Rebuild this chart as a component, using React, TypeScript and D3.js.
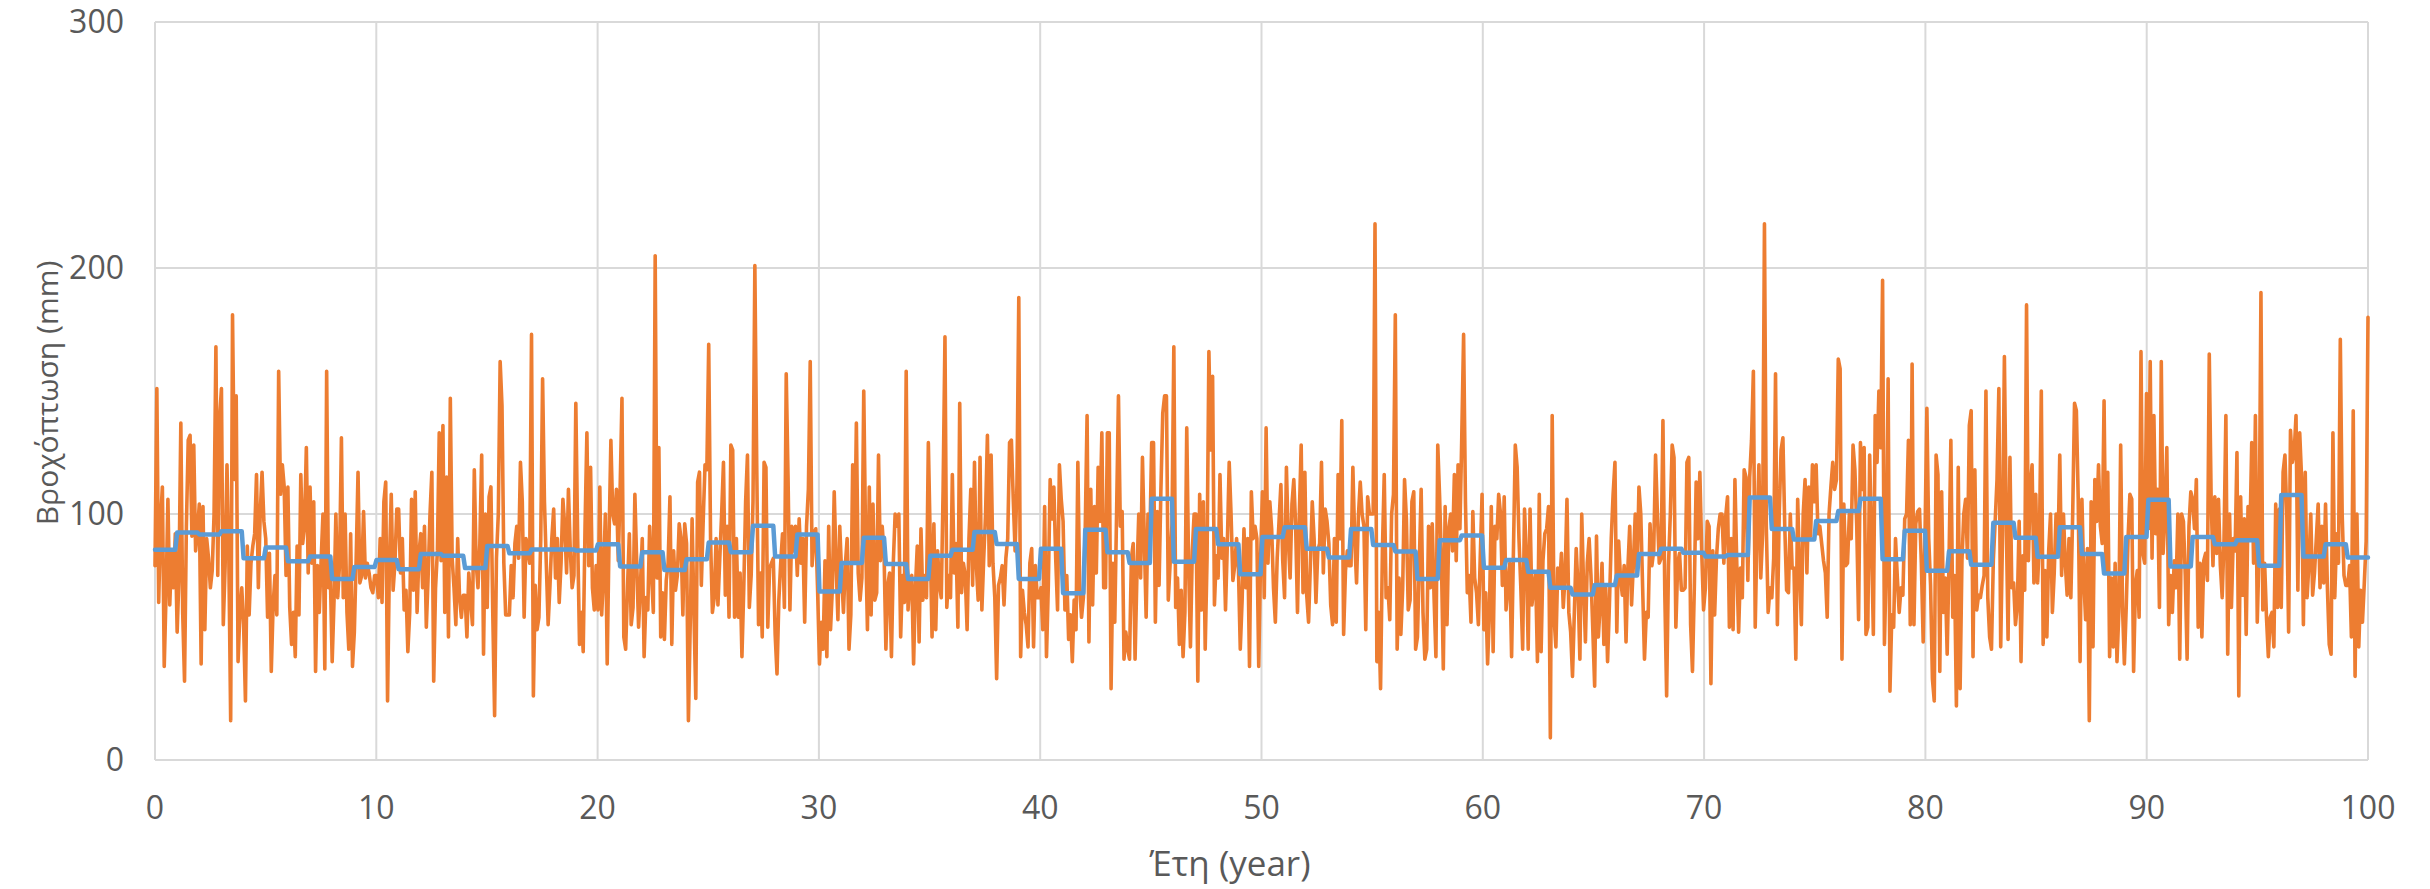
import React from 'react';
import * as d3 from 'd3';

// monthly rainfall (mm), one row per year, 12 months each
const monthlyRain: number[][] = [
  [79, 151, 64, 97, 111, 38, 68, 106, 63, 85, 70, 92],
  [52, 75, 137, 60, 32, 95, 130, 132, 91, 128, 85, 93],
  [104, 39, 103, 53, 90, 82, 70, 77, 100, 168, 75, 139],
  [151, 55, 79, 120, 82, 16, 181, 114, 148, 40, 60, 70],
  [55, 24, 87, 59, 80, 87, 92, 116, 70, 100, 117, 97],
  [90, 58, 84, 36, 63, 75, 59, 158, 108, 120, 111, 75],
  [111, 62, 47, 60, 42, 87, 59, 116, 88, 95, 127, 76],
  [111, 80, 105, 36, 79, 60, 81, 100, 37, 158, 70, 75],
  [40, 65, 100, 66, 80, 131, 66, 100, 60, 45, 92, 38],
  [52, 82, 117, 72, 75, 101, 74, 80, 76, 70, 68, 75],
  [75, 66, 90, 64, 105, 113, 24, 80, 108, 69, 80, 102],
  [102, 76, 90, 61, 69, 44, 60, 106, 69, 109, 60, 84],
  [92, 70, 95, 54, 75, 100, 117, 32, 70, 85, 133, 81],
  [136, 60, 115, 50, 147, 82, 70, 55, 90, 66, 58, 67],
  [67, 50, 76, 65, 55, 118, 80, 70, 88, 124, 43, 100],
  [62, 107, 111, 60, 18, 82, 100, 162, 144, 80, 59, 59],
  [59, 79, 66, 88, 95, 82, 121, 105, 58, 90, 85, 80],
  [173, 26, 71, 53, 58, 90, 155, 105, 80, 55, 71, 90],
  [102, 74, 90, 64, 80, 106, 95, 76, 110, 85, 70, 75],
  [145, 90, 47, 60, 44, 95, 133, 79, 119, 70, 61, 79],
  [61, 111, 59, 75, 100, 39, 90, 130, 100, 96, 110, 81],
  [110, 147, 50, 45, 70, 92, 55, 62, 108, 80, 54, 71],
  [90, 42, 66, 61, 95, 76, 60, 205, 74, 127, 50, 68],
  [49, 73, 80, 107, 47, 85, 69, 75, 96, 90, 59, 96],
  [88, 16, 56, 98, 60, 25, 113, 117, 71, 97, 120, 118],
  [169, 90, 60, 66, 90, 63, 82, 100, 121, 67, 95, 58],
  [128, 126, 58, 90, 58, 76, 42, 70, 105, 124, 62, 75],
  [105, 201, 121, 55, 76, 50, 121, 119, 54, 78, 80, 82],
  [51, 35, 65, 80, 92, 62, 157, 114, 61, 95, 85, 95],
  [75, 98, 80, 90, 56, 95, 110, 162, 79, 92, 94, 69],
  [39, 56, 45, 81, 42, 95, 53, 70, 109, 80, 57, 95],
  [76, 60, 79, 90, 45, 59, 120, 80, 137, 76, 65, 74],
  [150, 90, 53, 111, 59, 104, 65, 68, 124, 81, 95, 84],
  [45, 71, 76, 42, 80, 100, 95, 100, 50, 75, 64, 158],
  [61, 74, 75, 39, 70, 87, 48, 94, 65, 75, 66, 129],
  [90, 50, 96, 53, 85, 71, 66, 110, 172, 62, 75, 66],
  [116, 76, 88, 54, 145, 68, 80, 75, 53, 90, 110, 71],
  [121, 79, 65, 123, 61, 82, 100, 132, 79, 124, 80, 66],
  [33, 71, 74, 79, 63, 82, 90, 129, 130, 106, 85, 112],
  [188, 42, 69, 60, 55, 46, 80, 86, 46, 79, 66, 66],
  [70, 53, 103, 42, 71, 114, 98, 111, 82, 61, 120, 106],
  [97, 61, 75, 49, 59, 40, 65, 53, 121, 70, 58, 66],
  [94, 140, 48, 110, 63, 103, 76, 119, 97, 133, 70, 70],
  [133, 133, 29, 80, 56, 101, 148, 95, 101, 41, 52, 45],
  [41, 82, 88, 41, 75, 100, 74, 123, 90, 58, 100, 89],
  [129, 129, 56, 101, 71, 110, 141, 148, 148, 65, 80, 96],
  [168, 62, 74, 47, 69, 42, 60, 135, 79, 46, 85, 100],
  [100, 32, 108, 61, 105, 45, 82, 166, 126, 156, 63, 83],
  [74, 116, 82, 90, 61, 88, 121, 100, 73, 79, 90, 78],
  [45, 65, 94, 70, 90, 38, 109, 90, 95, 90, 38, 82],
  [109, 66, 135, 80, 105, 94, 70, 56, 82, 97, 112, 81],
  [66, 119, 90, 74, 104, 114, 95, 60, 100, 128, 68, 117],
  [67, 56, 80, 105, 90, 64, 85, 88, 121, 76, 102, 97],
  [88, 63, 55, 90, 56, 116, 90, 138, 51, 77, 85, 79],
  [79, 119, 90, 72, 99, 113, 100, 95, 53, 107, 100, 100],
  [100, 218, 40, 60, 29, 85, 116, 66, 70, 57, 100, 108],
  [181, 45, 74, 51, 70, 114, 98, 61, 65, 105, 109, 45],
  [50, 80, 110, 60, 41, 45, 95, 70, 96, 66, 42, 128],
  [107, 80, 37, 103, 55, 94, 100, 85, 116, 81, 120, 94],
  [131, 173, 105, 68, 75, 56, 101, 74, 68, 55, 82, 108],
  [53, 68, 39, 60, 103, 44, 95, 90, 108, 100, 71, 107],
  [61, 71, 80, 42, 85, 128, 119, 90, 70, 45, 102, 83],
  [45, 102, 63, 70, 76, 40, 108, 44, 81, 92, 94, 103],
  [9, 140, 58, 46, 78, 70, 84, 62, 75, 106, 60, 52],
  [34, 60, 86, 70, 41, 100, 71, 48, 80, 90, 75, 53],
  [30, 91, 50, 63, 80, 47, 70, 40, 63, 90, 108, 121],
  [52, 89, 74, 67, 79, 48, 78, 95, 63, 80, 100, 75],
  [111, 100, 70, 41, 60, 58, 96, 79, 85, 124, 100, 80],
  [82, 138, 68, 26, 79, 100, 128, 123, 54, 80, 84, 69],
  [69, 70, 121, 123, 55, 36, 70, 113, 90, 117, 85, 61],
  [70, 97, 95, 31, 85, 59, 82, 94, 100, 100, 80, 99],
  [107, 54, 90, 53, 114, 80, 52, 78, 66, 118, 115, 73],
  [115, 130, 158, 54, 94, 120, 74, 92, 218, 95, 60, 70],
  [66, 82, 157, 55, 100, 126, 131, 95, 69, 68, 100, 78],
  [78, 41, 106, 78, 55, 100, 114, 76, 111, 91, 120, 105],
  [120, 92, 95, 88, 81, 76, 58, 100, 111, 121, 110, 114],
  [163, 159, 41, 104, 79, 80, 100, 90, 128, 118, 95, 57],
  [129, 110, 127, 51, 54, 124, 90, 51, 140, 121, 150, 127],
  [195, 47, 80, 155, 28, 59, 54, 90, 74, 60, 70, 67],
  [98, 100, 130, 55, 161, 55, 96, 101, 102, 80, 48, 92],
  [143, 90, 71, 33, 24, 124, 116, 36, 109, 60, 74, 43],
  [81, 130, 58, 75, 22, 119, 29, 81, 100, 106, 82, 136],
  [142, 42, 118, 61, 67, 66, 71, 75, 150, 66, 50, 45],
  [81, 97, 114, 151, 46, 92, 164, 98, 49, 123, 70, 72],
  [55, 63, 97, 40, 83, 69, 185, 81, 111, 120, 72, 108],
  [72, 90, 150, 47, 77, 50, 85, 100, 60, 76, 100, 84],
  [124, 75, 100, 80, 67, 90, 66, 100, 145, 142, 106, 40],
  [106, 74, 57, 86, 16, 105, 46, 114, 97, 120, 95, 88],
  [146, 76, 117, 42, 74, 46, 80, 40, 60, 128, 62, 39],
  [62, 90, 108, 106, 36, 71, 77, 58, 166, 84, 80, 149],
  [94, 162, 82, 140, 92, 110, 62, 162, 84, 100, 127, 55],
  [75, 60, 81, 70, 100, 41, 100, 97, 75, 41, 95, 109],
  [106, 94, 114, 54, 80, 50, 81, 84, 73, 165, 107, 79],
  [107, 84, 106, 79, 66, 90, 140, 43, 100, 62, 90, 85],
  [125, 26, 107, 67, 98, 51, 103, 90, 129, 80, 140, 56],
  [85, 190, 61, 80, 58, 42, 58, 60, 46, 104, 62, 102],
  [62, 117, 124, 100, 52, 134, 121, 125, 140, 69, 133, 115],
  [55, 117, 66, 80, 100, 67, 76, 90, 104, 70, 95, 72],
  [104, 70, 47, 43, 133, 66, 92, 80, 171, 100, 75, 71],
  [71, 79, 50, 142, 34, 100, 46, 69, 56, 72, 89, 180],
];

// annual mean (mm), drawn as a step over each year's 12 months
const annualMean: number[] = [
  85.5, 92.5, 91.7, 93, 82, 86.4, 80.8, 82.7, 73.6, 78.5,
  81.3, 77.5, 83.7, 83, 78, 87, 84, 85.6, 85.6, 85.2,
  87.7, 78.7, 84.5, 77.2, 81.6, 88.4, 84.5, 95.2, 82.7, 91.7,
  68.5, 80.1, 90.3, 79.7, 73.6, 83, 85.5, 92.7, 87.8, 73.6,
  85.9, 67.8, 93.6, 84.5, 80.1, 106.2, 80.6, 93.9, 87.7, 75.5,
  90.6, 94.6, 85.9, 82.3, 93.9, 87.4, 84.8, 73.6, 89.3, 91.3,
  78.2, 81.3, 76.5, 70, 67.3, 71.1, 75, 83.7, 85.9, 84.2,
  82.7, 83.3, 106.7, 93.9, 89.6, 97.2, 101.2, 106.2, 81.6, 93.2,
  76.9, 84.9, 79.4, 96.4, 90.3, 82.6, 94.6, 83.7, 75.8, 90.6,
  105.8, 78.7, 90.6, 87.7, 89.3, 79, 107.7, 82.7, 87.7, 82.3,
];

const xTicks = [0, 10, 20, 30, 40, 50, 60, 70, 80, 90, 100];
const yTicks = [0, 100, 200, 300];

const W = 2430;
const H = 889;
const FONT = '"Open Sans", "Noto Sans", sans-serif';
const TEXT = '#595959';
const GRID = '#d9d9d9';

export default function App() {
  const x = d3.scaleLinear().domain([0, 100]).range([155, 2368]);
  const y = d3.scaleLinear().domain([0, 300]).range([760, 22]);

  const months = monthlyRain.flat();
  const n = months.length;
  const t = (i: number) => (i * 100) / (n - 1);

  const meanSeries = annualMean.flatMap((v) => Array(12).fill(v) as number[]);

  const line = d3
    .line<number>()
    .x((d, i) => x(t(i)))
    .y((d) => y(d));

  return (
    <svg
      width={W}
      height={H}
      style={{ position: 'absolute', left: 0, top: 0, background: '#fff' }}
      fontFamily={FONT}
    >
      {/* grid */}
      {yTicks.map((v) => (
        <line key={'gy' + v} x1={x(0)} x2={x(100)} y1={y(v)} y2={y(v)} stroke={GRID} strokeWidth={2} />
      ))}
      {xTicks.map((v) => (
        <line key={'gx' + v} x1={x(v)} x2={x(v)} y1={y(0)} y2={y(300)} stroke={GRID} strokeWidth={2} />
      ))}

      {/* series */}
      <path
        d={line(months) || ''}
        fill="none"
        stroke="#ED7D31"
        strokeWidth={3.6}
        strokeLinejoin="round"
        strokeLinecap="round"
      />
      <path
        d={line(meanSeries) || ''}
        fill="none"
        stroke="#5B9BD5"
        strokeWidth={4.5}
        strokeLinejoin="round"
        strokeLinecap="round"
      />

      {/* tick labels */}
      {yTicks.map((v) => (
        <text key={'ty' + v} x={124} y={y(v)} dy="0.35em" textAnchor="end" fontSize={32} fill={TEXT}>
          {v}
        </text>
      ))}
      {xTicks.map((v) => (
        <text key={'tx' + v} x={x(v)} y={808} dy="0.35em" textAnchor="middle" fontSize={32} fill={TEXT}>
          {v}
        </text>
      ))}

      {/* axis titles */}
      <text
        transform={`translate(47, 393) rotate(-90)`}
        textAnchor="middle"
        dy="0.35em"
        fontSize={30}
        fill={TEXT}
      >
        Βροχόπτωση (mm)
      </text>
      <text x={1230} y={864} dy="0.35em" textAnchor="middle" fontSize={35} fill={TEXT}>
        Έτη (year)
      </text>
    </svg>
  );
}
